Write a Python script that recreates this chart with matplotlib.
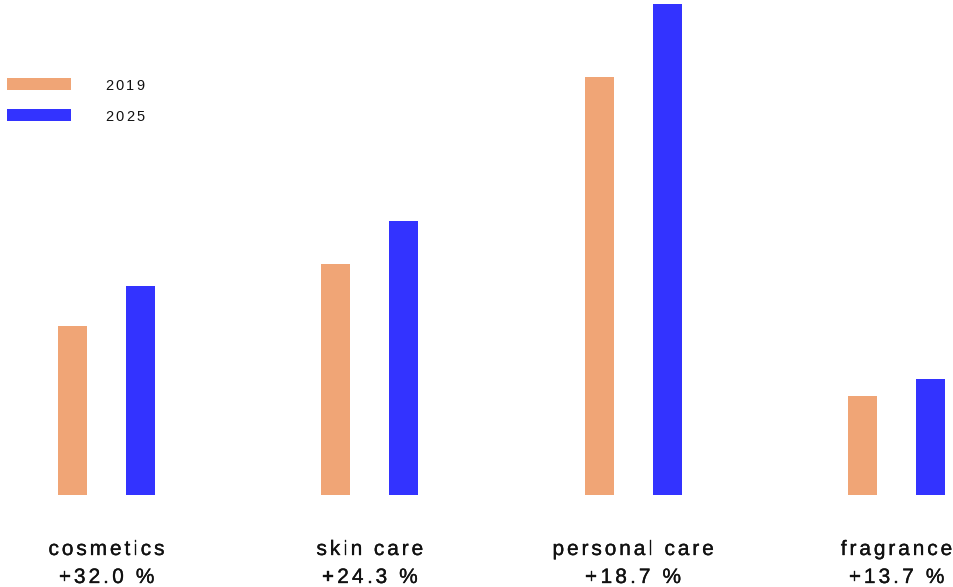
import matplotlib
matplotlib.use("Agg")
import matplotlib.pyplot as plt
import matplotlib.patheffects as pe
import numpy as np
from matplotlib import font_manager
from matplotlib.font_manager import FontProperties
from matplotlib.ft2font import FT2Font

# market size by category (bn)
categories = ["cosmetics", "skin care", "personal care", "fragrance"]
values_2019 = [41.3, 56.5, 102.2, 24.2]
values_2025 = [51.1, 67.0, 120.0, 28.4]
growth_labels = ["+32.0 %", "+24.3 %", "+18.7 %", "+13.7 %"]
years = ["2019", "2025"]

ORANGE = "#F0A576"
BLUE = "#3333FF"
FAMILY = "Liberation Sans"

W, H, DPI = 954, 587, 100
fig = plt.figure(figsize=(W / DPI, H / DPI), dpi=DPI)
fig.patch.set_facecolor("white")

# axes: baseline 92 px above bottom, group step ~263 px
base_px = 92
px_per_unit = 491 / max(values_2025)
ax = fig.add_axes([0, base_px / H, 1, (H - base_px) / H])
step = (896.5 - 106.5) / 3
ax.set_xlim(-106.5 / step, (W - 106.5) / step)
ax.set_ylim(0, (H - base_px) / px_per_unit)
ax.axis("off")

x = np.arange(len(categories))
bw = 29 / step
off = 34 / step
ax.bar(x - off, values_2019, width=bw, color=ORANGE, linewidth=0)
ax.bar(x + off, values_2025, width=bw, color=BLUE, linewidth=0)

# letter-spaced text, placed one glyph at a time
font_path = font_manager.findfont(FontProperties(family=FAMILY))
ft = FT2Font(font_path)


def advances(s, size_pt):
    ft.set_size(size_pt, DPI)
    out = []
    for ch in s:
        g = ft.load_char(ord(ch))
        out.append(g.linearHoriAdvance / 65536)
    return out


def spaced_text(s, x_px, y_px, size_pt, spacing, ha="center", stroke=0.0):
    adv = advances(s, size_pt)
    total = sum(adv) + spacing * (len(s) - 1)
    xs = x_px - total / 2 if ha == "center" else x_px
    effects = [pe.withStroke(linewidth=stroke, foreground="#111111")] if stroke else []
    for ch, a in zip(s, adv):
        fig.text(xs / DPI, (H - y_px) / DPI, ch, transform=fig.dpi_scale_trans,
                 fontsize=size_pt, family=FAMILY, color="#111111",
                 ha="left", va="baseline", path_effects=effects)
        xs += a + spacing


centers_px = 106.5 + x * step
for cx, name, g in zip(centers_px, categories, growth_labels):
    spaced_text(name, cx, 555, 15, 2.9, stroke=0.25)
    spaced_text(g, cx, 583, 15, 3.1, stroke=0.25)

# legend
leg_ax = fig.add_axes([0, 0, 1, 1])
leg_ax.set_xlim(0, W)
leg_ax.set_ylim(H, 0)
leg_ax.axis("off")
for i, (yr, col) in enumerate(zip(years, [ORANGE, BLUE])):
    top = 78 + i * 31
    leg_ax.add_patch(plt.Rectangle((7, top), 64, 12, color=col, linewidth=0))
    spaced_text(yr, 105, 90.3 + i * 30.4, 10.5, 2.4, ha="left")

fig.savefig("out.png", dpi=DPI, facecolor="white")
